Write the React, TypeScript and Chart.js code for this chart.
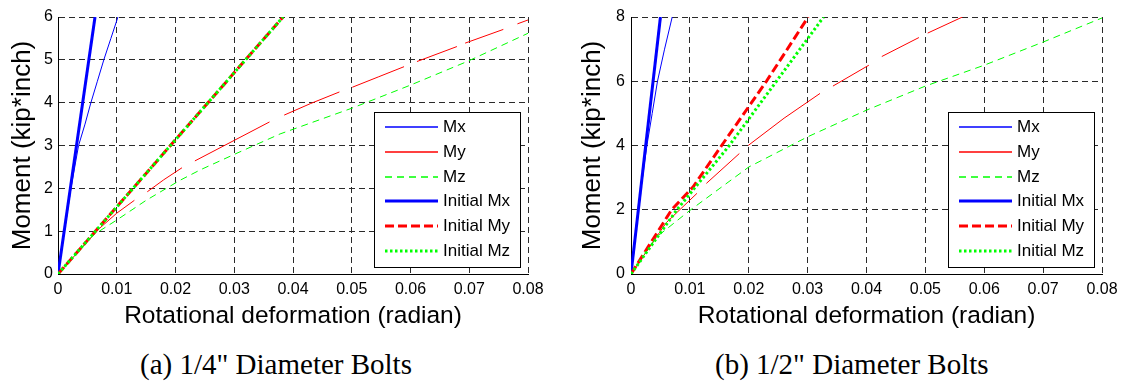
import React, { useEffect, useRef } from 'react';
import { Chart, registerables } from 'chart.js';

Chart.register(...registerables);

const FONT = "'Liberation Sans', Arial, Helvetica, sans-serif";

type Pt = [number, number] | null;

// ---------- ticks ----------
const xTickValues = [0, 0.01, 0.02, 0.03, 0.04, 0.05, 0.06, 0.07, 0.08];
const xTickLabels = ['0', '0.01', '0.02', '0.03', '0.04', '0.05', '0.06', '0.07', '0.08'];
const aYTickValues = [0, 1, 2, 3, 4, 5, 6];
const aYTickLabels = ['0', '1', '2', '3', '4', '5', '6'];
const bYTickValues = [0, 2, 4, 6, 8];
const bYTickLabels = ['0', '2', '4', '6', '8'];

const seriesNames = ['Mx', 'My', 'Mz', 'Initial Mx', 'Initial My', 'Initial Mz'];

const xTitle = 'Rotational deformation (radian)';
const yTitle = 'Moment (kip*inch)';
const captionA = '(a) 1/4" Diameter Bolts';
const captionB = '(b) 1/2" Diameter Bolts';

// ---------- (a) 1/4" bolts ----------
const aMx: Pt[] = [[0, 0], [0.0011, 1], [0.0022, 2], [0.0035, 3], [0.0046, 3.5], [0.0056, 4], [0.0067, 4.5], [0.0078, 5], [0.009, 5.5], [0.0102, 6]];
const aMy: Pt[] = [
  [0, 0], [0.0071, 1.07], [0.01, 1.42], [0.013, 1.72], null,
  [0.0152, 1.92], [0.018, 2.2], [0.0211, 2.48], null,
  [0.0233, 2.64], [0.03, 3.12], [0.036, 3.55], null,
  [0.0385, 3.71], [0.043, 3.98], [0.0479, 4.25], null,
  [0.0501, 4.36], [0.0545, 4.6], [0.0589, 4.84], null,
  [0.0611, 4.96], [0.0679, 5.31], null,
  [0.0693, 5.39], [0.0758, 5.71], null,
  [0.0782, 5.84], [0.08, 5.93],
];
const aMz: Pt[] = [[0, 0], [0.006, 0.91], [0.01, 1.26], [0.015, 1.72], [0.0208, 2.19], [0.0242, 2.43], [0.0298, 2.78], [0.0378, 3.27], [0.05, 3.87], [0.06, 4.41], [0.0698, 4.97], [0.08, 5.62]];
const aIMx: Pt[] = [[0, 0], [0.0063, 6]];
const aIMy: Pt[] = [[0, 0], [0.0383, 6]];
const aIMz: Pt[] = [[0, 0], [0.0383, 6]];

// ---------- (b) 1/2" bolts ----------
const bMx: Pt[] = [[0, 0], [0.0012, 2], [0.0027, 4], [0.0036, 5], [0.0045, 6], [0.0057, 7], [0.007, 8]];
const bMy: Pt[] = [
  [0, 0], [0.006, 1.6], [0.0112, 2.51], null,
  [0.0128, 2.82], [0.0184, 3.75], null,
  [0.0199, 4.0], [0.026, 4.85], [0.0321, 5.62], null,
  [0.0343, 5.85], [0.0404, 6.5], null,
  [0.0426, 6.77], [0.0489, 7.36], null,
  [0.0504, 7.5], [0.0563, 8.0],
];
const bMz: Pt[] = [[0, 0], [0.0044, 1.16], [0.01, 1.98], [0.02, 3.33], [0.03, 4.27], [0.04, 5.1], [0.05, 5.85], [0.06, 6.5], [0.07, 7.22], [0.08, 7.97]];
const bIMx: Pt[] = [[0, 0], [0.005, 8]];
const bIMy: Pt[] = [[0, 0], [0.0069, 2], [0.0105, 2.7], [0.0154, 4], [0.023, 6], [0.0301, 8]];
const bIMz: Pt[] = [[0, 0], [0.0078, 2], [0.0167, 4], [0.0247, 6], [0.0327, 8]];

// ---------- styles ----------
const seriesStyles = [
  { color: '#0000ff', width: 1, dash: [] as number[], order: 6 },
  { color: '#ff0000', width: 1, dash: [] as number[], order: 5 },
  { color: '#00ff00', width: 1, dash: [7, 5], order: 4 },
  { color: '#0000ff', width: 3, dash: [] as number[], order: 3 },
  { color: '#ff0000', width: 3, dash: [9, 4], order: 2 },
  { color: '#00ff00', width: 3, dash: [2.5, 2.5], order: 1 },
];

function toXY(pts: Pt[]) {
  const out: { x: number; y: number | null }[] = [];
  let lastX = 0;
  for (const p of pts) {
    if (p === null) out.push({ x: lastX, y: null });
    else {
      out.push({ x: p[0], y: p[1] });
      lastX = p[0];
    }
  }
  return out;
}

const insideLegend = {
  id: 'insideLegend',
  afterDraw(chart: any) {
    const { ctx, chartArea } = chart;
    const w = 146;
    const h = 155;
    const left = Math.round(chartArea.right - 8 - w);
    const top = Math.round(chartArea.bottom - 7 - h);
    ctx.save();
    ctx.fillStyle = '#ffffff';
    ctx.fillRect(left, top, w, h);
    ctx.strokeStyle = '#000000';
    ctx.lineWidth = 1;
    ctx.setLineDash([]);
    ctx.strokeRect(left + 0.5, top + 0.5, w, h);
    seriesNames.forEach((name, i) => {
      const st = seriesStyles[i];
      const y = Math.round(top + 15 + i * 24.8);
      ctx.save();
      ctx.beginPath();
      ctx.setLineDash(st.dash);
      ctx.lineWidth = st.width === 1 ? 1.3 : st.width;
      ctx.strokeStyle = st.color;
      ctx.lineCap = 'butt';
      ctx.moveTo(left + 11, y);
      ctx.lineTo(left + 64, y);
      ctx.stroke();
      ctx.restore();
      ctx.fillStyle = '#000000';
      ctx.font = `17px ${FONT}`;
      ctx.textBaseline = 'middle';
      ctx.textAlign = 'left';
      ctx.fillText(name, left + 69, y);
    });
    ctx.restore();
  },
};

interface PanelSpec {
  series: Pt[][];
  yMax: number;
  yTickValues: number[];
  yTickLabels: string[];
  yAxisWidth: number;
  padRight: number;
  yTickPad: number;
}

function makeConfig(spec: PanelSpec, height: number): any {
  return {
    type: 'line',
    data: {
      datasets: spec.series.map((s, i) => ({
        label: seriesNames[i],
        data: toXY(s),
        borderColor: seriesStyles[i].color,
        backgroundColor: seriesStyles[i].color,
        borderWidth: seriesStyles[i].width,
        borderDash: seriesStyles[i].dash,
        borderCapStyle: 'butt',
        order: seriesStyles[i].order,
        pointRadius: 0,
        pointHoverRadius: 0,
        tension: 0,
        fill: false,
        spanGaps: false,
      })),
    },
    options: {
      animation: false,
      responsive: false,
      maintainAspectRatio: false,
      events: [],
      layout: { padding: { top: 17, right: spec.padRight, left: 0, bottom: 0 } },
      plugins: {
        legend: { display: false },
        tooltip: { enabled: false },
      },
      scales: {
        x: {
          type: 'linear',
          min: 0,
          max: 0.08,
          afterBuildTicks: (scale: any) => {
            scale.ticks = xTickValues.map((v) => ({ value: v }));
          },
          afterFit: (scale: any) => {
            scale.height = height - 274;
          },
          ticks: {
            autoSkip: false,
            maxRotation: 0,
            padding: 6,
            color: '#000',
            font: { family: FONT, size: 16 },
            callback: (_v: any, i: number) => xTickLabels[i],
          },
          grid: { color: '#2a2a2a', lineWidth: 1, drawTicks: false },
          border: { display: true, color: '#000', width: 1, dash: [6, 4] },
          title: {
            display: true,
            text: xTitle,
            color: '#000',
            font: { family: FONT, size: 24.5 },
            padding: { top: 0, bottom: 8.7 },
          },
        },
        y: {
          type: 'linear',
          min: 0,
          max: spec.yMax,
          afterBuildTicks: (scale: any) => {
            scale.ticks = spec.yTickValues.map((v) => ({ value: v }));
          },
          afterFit: (scale: any) => {
            scale.width = spec.yAxisWidth;
          },
          ticks: {
            autoSkip: false,
            padding: spec.yTickPad,
            color: '#000',
            font: { family: FONT, size: 16 },
            callback: (_v: any, i: number) => spec.yTickLabels[i],
          },
          grid: { color: '#2a2a2a', lineWidth: 1, drawTicks: false },
          border: { display: true, color: '#000', width: 1, dash: [6, 4] },
          title: {
            display: true,
            text: yTitle,
            color: '#000',
            font: { family: FONT, size: 26 },
            padding: { top: 7.4, bottom: 0 },
          },
        },
      },
    },
    plugins: [insideLegend],
  };
}

function Panel({ spec, left, width, height }: { spec: PanelSpec; left: number; width: number; height: number }) {
  const ref = useRef<HTMLCanvasElement | null>(null);
  useEffect(() => {
    if (!ref.current) return;
    const chart = new Chart(ref.current, makeConfig(spec, height));
    return () => chart.destroy();
  }, []);
  return (
    <canvas
      ref={ref}
      width={width}
      height={height}
      style={{ position: 'absolute', left, top: 0, width, height, display: 'block' }}
    />
  );
}

const specA: PanelSpec = {
  series: [aMx, aMy, aMz, aIMx, aIMy, aIMz],
  yMax: 6,
  yTickValues: aYTickValues,
  yTickLabels: aYTickLabels,
  yAxisWidth: 58,
  padRight: 42,
  yTickPad: 5,
};

const specB: PanelSpec = {
  series: [bMx, bMy, bMz, bIMx, bIMy, bIMz],
  yMax: 8,
  yTickValues: bYTickValues,
  yTickLabels: bYTickLabels,
  yAxisWidth: 61,
  padRight: 29,
  yTickPad: 6,
};

const captionStyle: React.CSSProperties = {
  position: 'absolute',
  top: 350,
  fontFamily: "'Liberation Serif', 'Times New Roman', serif",
  fontSize: 29,
  lineHeight: '29px',
  color: '#000',
  whiteSpace: 'nowrap',
};

export default function App() {
  return (
    <div style={{ position: 'absolute', left: 0, top: 0, width: 1131, height: 383, background: '#fff', overflow: 'hidden' }}>
      <Panel spec={specA} left={0} width={570} height={340} />
      <Panel spec={specB} left={570} width={561} height={340} />
      <div style={{ ...captionStyle, left: 140 }}>{captionA}</div>
      <div style={{ ...captionStyle, left: 715 }}>{captionB}</div>
    </div>
  );
}
